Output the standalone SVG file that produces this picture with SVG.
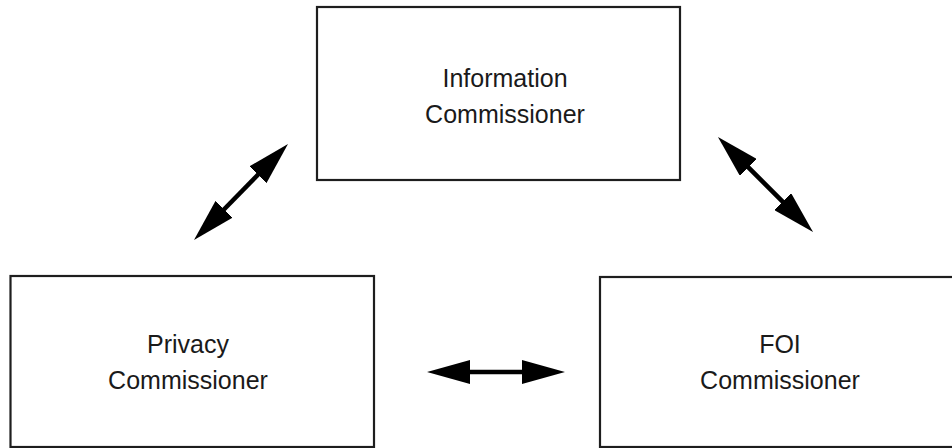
<svg xmlns="http://www.w3.org/2000/svg" width="952" height="448" viewBox="0 0 952 448">
<style>
.box{fill:#fff;stroke:#1e1e1e;stroke-width:2.2}
.lbl{font-family:"Liberation Sans",Arial,sans-serif;font-size:25px;fill:#1a1a1a;text-anchor:middle}
.conn{stroke:#000;stroke-width:4.5;fill:none;marker-start:url(#head);marker-end:url(#head)}
</style>
<defs>
<marker id="head" markerUnits="userSpaceOnUse" markerWidth="43" markerHeight="24" viewBox="0 0 43 24" refX="23" refY="12" orient="auto-start-reverse">
<path d="M0,0 L43,12 L0,24 Z" fill="#000"/>
</marker>
</defs>
<rect width="952" height="448" fill="#fff"/>
<g id="info">
<rect class="box" x="317" y="7" width="363" height="173"/>
<text class="lbl" x="505" y="87">Information</text>
<text class="lbl" x="505" y="123">Commissioner</text>
</g>
<g id="privacy">
<rect class="box" x="10.5" y="276" width="363.5" height="171"/>
<text class="lbl" x="188" y="353">Privacy</text>
<text class="lbl" x="188" y="389">Commissioner</text>
</g>
<g id="foi">
<rect class="box" x="600" y="277" width="370" height="170"/>
<text class="lbl" x="780" y="353">FOI</text>
<text class="lbl" x="780" y="389">Commissioner</text>
</g>
<g id="connectors">
<line class="conn" x1="208" y1="225.7" x2="274" y2="158.3"/>
<line class="conn" x1="732.1" y1="151.1" x2="798.9" y2="217.9"/>
<line class="conn" x1="447" y1="372" x2="545" y2="372"/>
</g>
</svg>
